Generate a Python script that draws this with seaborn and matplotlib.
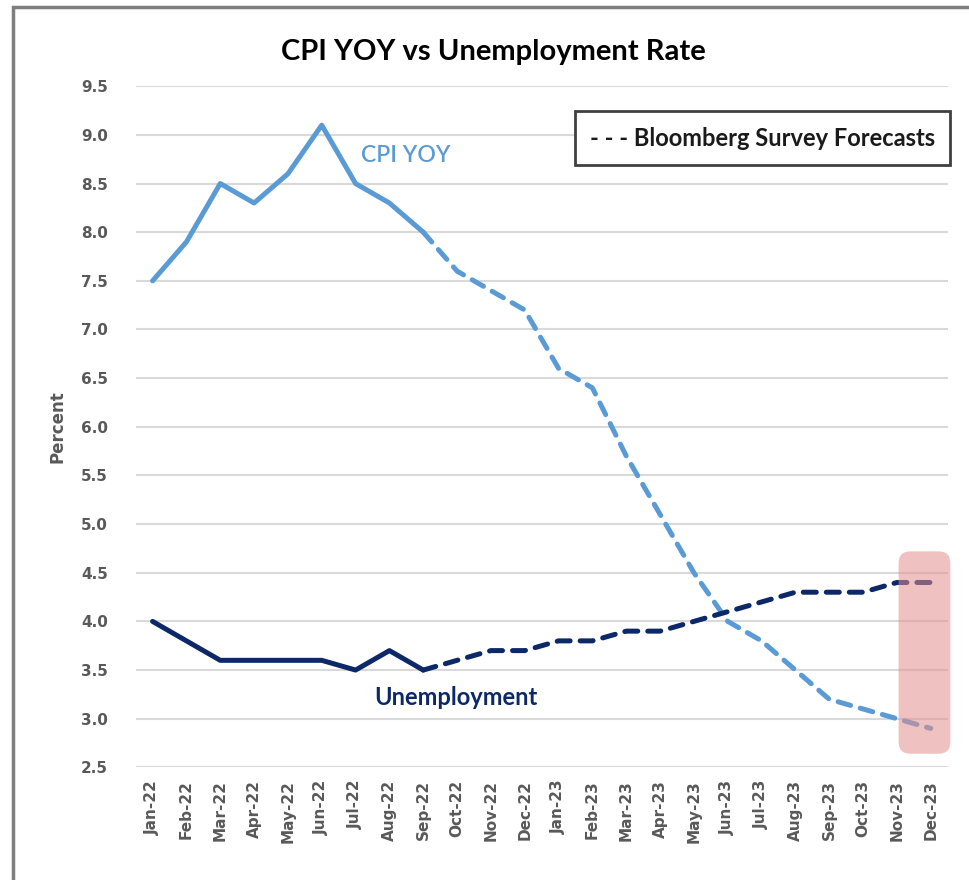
import pandas as pd
import matplotlib.pyplot as plt
import seaborn as sns
from matplotlib.patches import FancyBboxPatch, Rectangle

# data
months = ['Jan-22', 'Feb-22', 'Mar-22', 'Apr-22', 'May-22', 'Jun-22', 'Jul-22', 'Aug-22',
          'Sep-22', 'Oct-22', 'Nov-22', 'Dec-22', 'Jan-23', 'Feb-23', 'Mar-23', 'Apr-23',
          'May-23', 'Jun-23', 'Jul-23', 'Aug-23', 'Sep-23', 'Oct-23', 'Nov-23', 'Dec-23']
cpi_yoy = [7.5, 7.9, 8.5, 8.3, 8.6, 9.1, 8.5, 8.3, 8.0, 7.6, 7.4, 7.2,
           6.6, 6.4, 5.7, 5.1, 4.5, 4.0, 3.8, 3.5, 3.2, 3.1, 3.0, 2.9]
unemployment = [4.0, 3.8, 3.6, 3.6, 3.6, 3.6, 3.5, 3.7, 3.5, 3.6, 3.7, 3.7,
                3.8, 3.8, 3.9, 3.9, 4.0, 4.1, 4.2, 4.3, 4.3, 4.3, 4.4, 4.4]
last_actual = 'Sep-22'
yticks = [2.5, 3.0, 3.5, 4.0, 4.5, 5.0, 5.5, 6.0, 6.5, 7.0, 7.5, 8.0, 8.5, 9.0, 9.5]

cpi_color = '#5b9bd5'
unemp_color = '#0c2868'
label_gray = '#595959'

df = pd.DataFrame({'month': months, 'CPI YOY': cpi_yoy, 'Unemployment': unemployment})
df['x'] = range(len(df))
cut = months.index(last_actual)
actual = df.iloc[:cut + 1]
forecast = df.iloc[cut:]

sns.set_style('white')
fig = plt.figure(figsize=(9.69, 8.8), dpi=100)
ax = fig.add_axes([0.140, 0.128, 0.838, 0.774])

for col, c in [('CPI YOY', cpi_color), ('Unemployment', unemp_color)]:
    sns.lineplot(data=actual, x='x', y=col, color=c, lw=3.6, ax=ax,
                 solid_capstyle='round', solid_joinstyle='round')
    sns.lineplot(data=forecast, x='x', y=col, color=c, lw=3.6, ax=ax,
                 dashes=False, linestyle=(0, (2.6, 2.0)), dash_capstyle='round')

ax.set_xlim(-0.5, len(months) - 0.5)
ax.set_ylim(2.5, 9.5)
ax.set_yticks(yticks)
ax.set_yticklabels([f'{v:.1f}' for v in yticks], color=label_gray, fontsize=11, fontweight='bold')
ax.set_xticks(df['x'])
ax.set_xticklabels(months, rotation=90, color=label_gray, fontsize=11, fontweight='bold')
ax.tick_params(axis='both', length=0, pad=9)
ax.tick_params(axis='y', pad=20)
ax.grid(axis='y', color='#d9d9d9', lw=1.5)
ax.set_axisbelow(True)
for s in ax.spines.values():
    s.set_visible(False)
ax.set_xlabel('')
ax.set_ylabel('Percent', color=label_gray, fontsize=12, fontweight='bold', labelpad=10)

# highlight box at the end of the forecast
box = FancyBboxPatch((22.05, 2.64), 1.53, 2.08,
                     boxstyle='round,pad=0,rounding_size=0.35', mutation_aspect=0.35,
                     facecolor='#e48f8f', edgecolor='none', alpha=0.55, zorder=5, clip_on=False)
ax.add_patch(box)

# series labels
ax.text(6.15, 8.79, 'CPI YOY', color=cpi_color, fontsize=16.5, family='Lato',
        fontweight='semibold', ha='left', va='center')
ax.text(8.95, 3.22, 'Unemployment', color=unemp_color, fontsize=17, family='Lato',
        fontweight='bold', ha='center', va='center')

# forecast note box
ax.text(0.772, 0.924, '- - - Bloomberg Survey Forecasts', transform=ax.transAxes,
        fontsize=17, family='Lato', fontweight='bold', color='#1a1a1a', ha='center', va='center',
        bbox=dict(boxstyle='square,pad=0.65', facecolor='white', edgecolor='#404040', lw=2))

fig.text(0.509, 0.941, 'CPI YOY vs Unemployment Rate', ha='center', va='center',
         fontsize=21, family='Lato', fontweight='bold', color='black')

# outer chart frame
fig.patches.append(Rectangle((0.013, -0.1), 1.2, 1.092, transform=fig.transFigure,
                             fill=False, edgecolor='#7f7f7f', lw=2.5))

fig.savefig('out.png', dpi=100)
